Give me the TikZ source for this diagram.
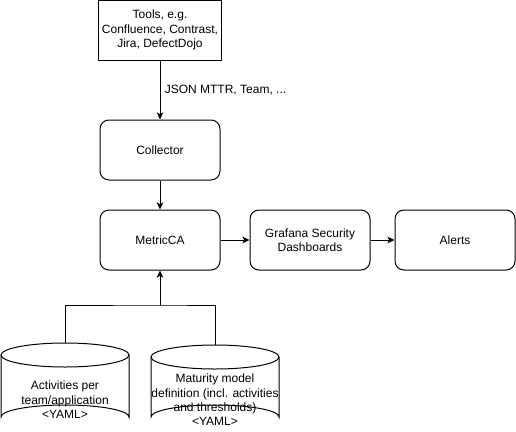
\documentclass[tikz,border=0pt]{standalone}
\usepackage{fontspec}
\setmainfont{Liberation Sans}
\usetikzlibrary{arrows.meta}

\tikzset{
	box/.style={draw,line width=1pt,minimum width=120pt,minimum height=60pt,align=center,font=\fontsize{12}{14.4}\selectfont},
	rbox/.style={box,rounded corners=9pt},
	dbtext/.style={align=center,font=\fontsize{12}{14.4}\selectfont,inner sep=0pt},
	link/.style={line width=1pt,-{Stealth[length=7pt,width=6.5pt,inset=1.5pt]}}
}

\begin{document}
\begin{tikzpicture}[x=1pt,y=-1pt]
	\useasboundingbox (0,0) rectangle (516,431);
	%boxes
	\node[box] (tools) at (160,30) {Tools, e.g.\\Confluence, Contrast,\\Jira, DefectDojo};
	\node[rbox] (collector) at (160,150) {Collector};
	\node[rbox] (metricca) at (160,240) {MetricCA};
	\node[rbox] (grafana) at (310,240) {Grafana Security\\Dashboards};
	\node[rbox] (alerts) at (455,240) {Alerts};
	%cylinders
	\draw[line width=1pt] (1,355) -- (1,417) arc[start angle=180,end angle=360,x radius=64,y radius=12] -- (129,355);
	\draw[line width=1pt] (65,355) ellipse[x radius=64,y radius=12];
	\draw[line width=1pt] (151,357) -- (151,417) arc[start angle=180,end angle=360,x radius=64,y radius=12] -- (279,357);
	\draw[line width=1pt] (215,357) ellipse[x radius=64,y radius=12];
	\coordinate (acttop) at (65,343);
	\coordinate (mattop) at (215,345);
	\coordinate (join) at (160,305);
	\node[dbtext] (act) at (65,400) {Activities per\\team/application\\<YAML>};
	\node[dbtext] (mat) at (215,400) {Maturity model\\definition (incl. activities\\and thresholds)\\<YAML>};
	%connectors
	\draw[link] (tools) -- (collector) node[midway,right,xshift=1pt,font=\fontsize{12}{14.4}\selectfont]{JSON MTTR, Team, ...};
	\draw[link] (collector) -- (metricca);
	\draw[link] (metricca) -- (grafana);
	\draw[link] (grafana) -- (alerts);
	\draw[line width=1pt] (acttop) |- (join) -| (mattop);
	\draw[link] (join) -- (metricca);
\end{tikzpicture}
\end{document}
